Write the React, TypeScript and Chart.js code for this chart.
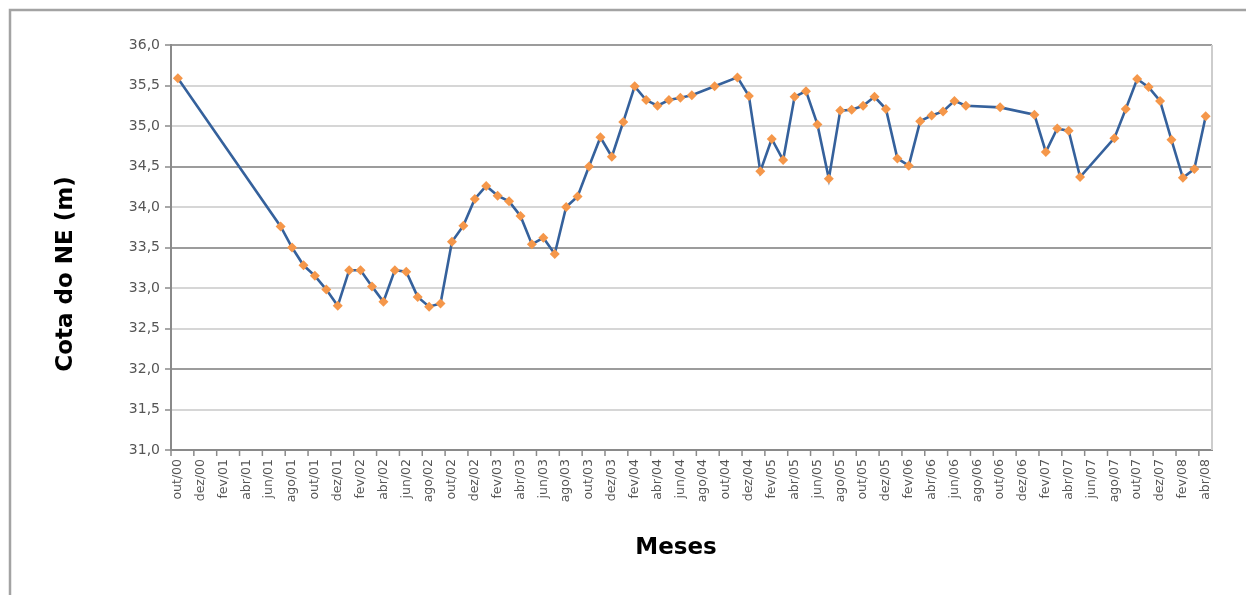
import React, { useEffect, useRef } from 'react';
import { Chart, registerables } from 'chart.js';

Chart.register(...registerables);

// Tick labels (every two months, starting out/00)
const tickLabels = [
  'out/00', 'dez/00', 'fev/01', 'abr/01', 'jun/01', 'ago/01', 'out/01', 'dez/01',
  'fev/02', 'abr/02', 'jun/02', 'ago/02', 'out/02', 'dez/02', 'fev/03', 'abr/03',
  'jun/03', 'ago/03', 'out/03', 'dez/03', 'fev/04', 'abr/04', 'jun/04', 'ago/04',
  'out/04', 'dez/04', 'fev/05', 'abr/05', 'jun/05', 'ago/05', 'out/05', 'dez/05',
  'fev/06', 'abr/06', 'jun/06', 'ago/06', 'out/06', 'dez/06', 'fev/07', 'abr/07',
  'jun/07', 'ago/07', 'out/07', 'dez/07', 'fev/08', 'abr/08',
];

// Months since out/00 for each measurement
const monthIndex = [
  0, 9, 10, 11, 12, 13, 14, 15, 16, 17, 18, 19, 20, 21, 22, 23, 24, 25, 26, 27,
  28, 29, 30, 31, 32, 33, 34, 35, 36, 37, 38, 39, 40, 41, 42, 43, 44, 45, 47, 49,
  50, 51, 52, 53, 54, 55, 56, 57, 58, 59, 60, 61, 62, 63, 64, 65, 66, 67, 68, 69,
  72, 75, 76, 77, 78, 79, 82, 83, 84, 85, 86, 87, 88, 89, 90,
];

// Cota do NE (m)
const cota = [
  35.59, 33.76, 33.5, 33.28, 33.15, 32.98, 32.78, 33.22, 33.22, 33.02, 32.83, 33.22,
  33.2, 32.89, 32.77, 32.81, 33.57, 33.77, 34.1, 34.26, 34.14, 34.07, 33.89, 33.54,
  33.62, 33.42, 34.0, 34.13, 34.5, 34.86, 34.62, 35.05, 35.49, 35.32, 35.25, 35.32,
  35.35, 35.38, 35.49, 35.6, 35.37, 34.44, 34.84, 34.58, 35.36, 35.43, 35.02, 34.35,
  35.19, 35.2, 35.25, 35.36, 35.21, 34.6, 34.51, 35.06, 35.13, 35.18, 35.31, 35.25,
  35.23, 35.14, 34.68, 34.97, 34.94, 34.37, 34.85, 35.21, 35.58, 35.48, 35.31, 34.83,
  34.36, 34.47, 35.12,
];

const yMin = 31;
const yMax = 36;
const yStep = 0.5;
const darkGridValues = [32, 33.5, 34.5, 36];

const xTitle = 'Meses';
const yTitle = 'Cota do NE (m)';

const xMin = -0.6;
const xMax = 90.55;
const periodOffset = -0.6; // tick marks at start of each two-month period

const W = 1246;
const H = 595;
const titleFont = 'bold 23px "DejaVu Sans"';

const framePlugin = {
  id: 'framePlugin',
  beforeDraw(chart: any) {
    const { ctx } = chart;
    ctx.save();
    ctx.fillStyle = '#ffffff';
    ctx.fillRect(0, 0, chart.width, chart.height);
    ctx.strokeStyle = '#a3a3a3';
    ctx.lineWidth = 2.5;
    ctx.beginPath();
    ctx.moveTo(10, chart.height);
    ctx.lineTo(10, 10);
    ctx.lineTo(chart.width, 10);
    ctx.stroke();
    ctx.restore();
  },
  afterDatasetsDraw(chart: any) {
    const { ctx, chartArea } = chart;
    ctx.save();
    ctx.strokeStyle = '#cdcdcd';
    ctx.lineWidth = 2;
    ctx.beginPath();
    ctx.moveTo(chartArea.right, chartArea.top);
    ctx.lineTo(chartArea.right, chartArea.bottom);
    ctx.stroke();
    // tick marks on x axis at period boundaries
    const xs = chart.scales.x;
    ctx.strokeStyle = '#8a8a8a';
    ctx.lineWidth = 1.5;
    ctx.beginPath();
    for (let k = 0; k < tickLabels.length; k++) {
      const px = xs.getPixelForValue(k * 2 + periodOffset);
      ctx.moveTo(px, chartArea.bottom);
      ctx.lineTo(px, chartArea.bottom + 6);
    }
    ctx.stroke();
    // axis titles
    ctx.fillStyle = '#000000';
    ctx.font = titleFont;
    ctx.textAlign = 'center';
    ctx.textBaseline = 'middle';
    ctx.fillText(xTitle, 676, 548);
    ctx.translate(66, 274);
    ctx.rotate(-Math.PI / 2);
    ctx.fillText(yTitle, 0, 0);
    ctx.restore();
  },
};

export default function App() {
  const canvasRef = useRef<HTMLCanvasElement | null>(null);

  useEffect(() => {
    if (!canvasRef.current) return;
    const points = monthIndex.map((m, i) => ({ x: m, y: cota[i] }));
    const chart = new Chart(canvasRef.current, {
      type: 'line',
      data: {
        datasets: [
          {
            label: yTitle,
            data: points,
            borderColor: '#35619c',
            borderWidth: 2.6,
            pointStyle: 'rectRot',
            pointRadius: 5,
            pointBackgroundColor: '#f5974a',
            pointBorderColor: '#f5974a',
            pointBorderWidth: 0,
            tension: 0,
          },
        ],
      },
      options: {
        animation: false,
        responsive: false,
        devicePixelRatio: 1,
        layout: { padding: { top: 45, right: 34, bottom: 0, left: 0 } },
        plugins: {
          legend: { display: false },
          tooltip: { enabled: false },
        },
        scales: {
          x: {
            type: 'linear',
            min: xMin,
            max: xMax,
            afterBuildTicks: (scale: any) => {
              scale.ticks = tickLabels.map((_, i) => ({ value: i * 2 }));
            },
            afterFit: (scale: any) => {
              scale.height = H - 450;
            },
            ticks: {
              autoSkip: false,
              minRotation: 90,
              maxRotation: 90,
              padding: 9,
              color: '#555555',
              font: { family: 'DejaVu Sans', size: 12.5 },
              callback: (value: any) => tickLabels[Math.round(Number(value) / 2)] ?? '',
            },
            grid: { display: true, drawOnChartArea: false, drawTicks: false },
            border: { display: true, color: '#8a8a8a', width: 2 },
            title: { display: false, text: xTitle },
          },
          y: {
            min: yMin,
            max: yMax,
            afterFit: (scale: any) => {
              scale.width = 171;
            },
            ticks: {
              stepSize: yStep,
              padding: 5,
              color: '#555555',
              font: { family: 'DejaVu Sans', size: 14 },
              callback: (value: any) => Number(value).toFixed(1).replace('.', ','),
            },
            grid: {
              color: (ctx: any) =>
                ctx.tick && darkGridValues.includes(ctx.tick.value) ? '#9c9c9c' : '#d6d6d6',
              lineWidth: 2,
              tickLength: 6,
              tickColor: '#8a8a8a',
              tickWidth: 1.5,
            },
            border: { display: true, color: '#8a8a8a', width: 2 },
            title: { display: false, text: yTitle },
          },
        },
      },
      plugins: [framePlugin],
    });
    return () => chart.destroy();
  }, []);

  return (
    <div style={{ position: 'absolute', left: 0, top: 0, width: W, height: H }}>
      <canvas ref={canvasRef} width={W} height={H} style={{ width: W, height: H }} />
    </div>
  );
}
